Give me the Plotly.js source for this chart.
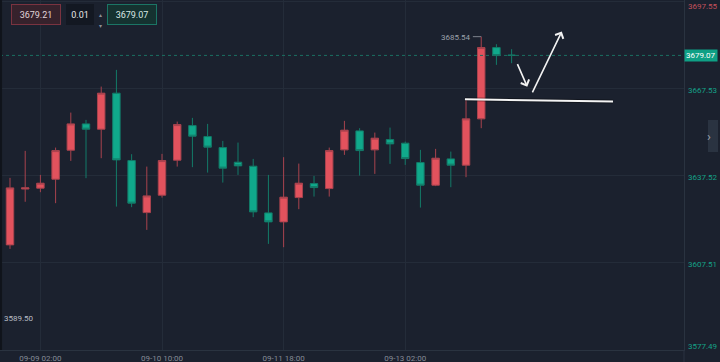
<!DOCTYPE html>
<html>
<head>
<meta charset="utf-8">
<script src="https://cdn.plot.ly/plotly-3.0.1.min.js"></script>
<style>html,body{margin:0;padding:0;background:#1b212e;}#chart{width:720px;height:362px;}</style>
</head>
<body>
<div id="chart"></div>
<script>
// ---- data (4h candles, index-based x) ----
const candleIdx = [0,1,2,3,4,5,6,7,8,9,10,11,12,13,14,15,16,17,18,19,20,21,22,23,24,25,26,27,28,29,30,31,32,33];
const openP  = [3613.74,3633.00,3633.29,3636.39,3646.39,3655.46,3653.63,3666.05,3642.81,3624.87,3630.87,3642.94,3654.87,3651.08,3647.29,3642.25,3640.87,3624.77,3621.67,3630.05,3634.87,3633.15,3646.50,3653.05,3646.50,3650.05,3648.81,3642.12,3634.32,3643.39,3641.22,3657.19,3681.77,3679.20];
const highP  = [3636.84,3646.15,3637.87,3647.29,3659.36,3656.84,3668.32,3674.08,3645.01,3640.74,3645.12,3656.25,3657.53,3655.46,3649.60,3649.01,3643.39,3637.87,3643.98,3641.77,3637.53,3647.29,3656.50,3653.98,3652.46,3654.19,3649.36,3646.50,3646.84,3645.91,3663.74,3685.54,3682.94,3681.22];
const lowP   = [3612.36,3628.60,3631.91,3628.12,3642.70,3636.74,3643.63,3626.94,3626.74,3618.91,3630.05,3640.74,3640.53,3638.67,3635.22,3637.87,3623.29,3614.08,3612.94,3626.05,3630.39,3630.39,3644.77,3637.63,3638.22,3641.67,3641.32,3626.60,3634.00,3633.63,3637.08,3653.98,3675.81,3676.39];
const closeP = [3633.39,3633.40,3635.01,3646.25,3655.46,3653.63,3666.05,3643.05,3628.12,3630.63,3642.81,3655.22,3651.22,3647.43,3640.19,3640.98,3625.12,3621.67,3630.19,3635.01,3633.50,3646.25,3653.29,3646.25,3650.53,3648.56,3643.50,3634.32,3643.63,3641.22,3657.19,3681.77,3679.01,3679.07];

const xTickIdx  = [2,10,18,26];
const xTickText = ['09-09 02:00','09-10 10:00','09-11 18:00','09-13 02:00'];
const yTickVals = [3697.55,3667.53,3637.52,3607.51,3577.49];
const yTickText = ['3697.55','3667.53','3637.52','3607.51','3577.49'];

const bidPrice = 3679.21;
const askPrice = 3679.07;
const lotStep = '0.01';
const lastPrice = 3679.07;
const offscreenLow = 3589.50;

// user drawings (index, price)
const levelLineX = [29.93, 39.67];
const levelLineY = [3663.98, 3663.15];
const arrowDownTail = [33.34, 3676.6];
const arrowDownHead = [34.03, 3668.3];
const arrowUpTail = [34.32, 3665.8];
const arrowUpHead = [36.3, 3687.3];

// ---- styling ----
const BG = '#1b212e';
const GRID = '#242c39';
const AXLINE = '#2a3340';
const RED = '#e2525d';
const RED_W = '#a8434e';
const GREEN = '#10a98b';
const GREEN_W = '#137a68';
const FONT = 'Roboto, "Open Sans", sans-serif';

const trace = {
  type: 'candlestick',
  x: candleIdx, open: openP, high: highP, low: lowP, close: closeP,
  increasing: {fillcolor: RED, line: {color: RED_W, width: 1}},
  decreasing: {fillcolor: GREEN, line: {color: GREEN_W, width: 1}},
  hoverinfo: 'skip', showlegend: false
};

const hiVal = Math.max(...highP);
const hiIdx = candleIdx[highP.indexOf(hiVal)];

const annotations = [];
yTickVals.forEach((v, i) => {
  const shift = i === 0 ? -5 : (i === yTickVals.length - 1 ? 4 : -2);
  annotations.push({
    xref: 'paper', x: 1, xanchor: 'left', xshift: 2,
    yref: 'y', y: v, yanchor: 'middle', yshift: shift,
    text: yTickText[i], showarrow: false,
    font: {family: FONT, size: 8, color: v > lastPrice ? '#c4505b' : '#15a087'}
  });
});
// last price tag
annotations.push({
  xref: 'paper', x: 1, xanchor: 'left', xshift: 0,
  yref: 'y', y: lastPrice, yanchor: 'middle',
  text: lastPrice.toFixed(2), showarrow: false,
  bgcolor: '#0fa085', borderpad: 1,
  font: {family: FONT, size: 8, color: '#ffffff'}
});
// high marker
annotations.push({
  xref: 'x', x: hiIdx, xanchor: 'right', xshift: -8,
  yref: 'y', y: hiVal, yanchor: 'middle', yshift: -1,
  text: hiVal.toFixed(2), showarrow: false,
  font: {family: FONT, size: 8, color: '#9aa0aa'}
});
// off-screen low marker
annotations.push({
  xref: 'paper', x: 0, xanchor: 'left', xshift: 2,
  yref: 'y', y: offscreenLow, yanchor: 'middle', yshift: -3,
  text: offscreenLow.toFixed(2), showarrow: false,
  font: {family: FONT, size: 8, color: '#b9bdc5'}
});
// arrows
[[arrowDownTail, arrowDownHead], [arrowUpTail, arrowUpHead]].forEach(([t, h]) => {
  annotations.push({
    xref: 'x', yref: 'y', axref: 'x', ayref: 'y',
    x: h[0], y: h[1], ax: t[0], ay: t[1], text: '',
    showarrow: true, arrowhead: 4, arrowsize: 1.1, arrowwidth: 1.6, arrowcolor: '#f2f2f2'
  });
});
// top-left trade widgets
function box(px, w, txt, bg, border, col) {
  annotations.push({
    xref: 'paper', x: px / 684, xanchor: 'left',
    yref: 'paper', y: 1 - 4 / 350, yanchor: 'top',
    text: txt, showarrow: false, width: w, height: 19, borderpad: 0,
    bgcolor: bg, bordercolor: border, borderwidth: 1,
    font: {family: FONT, size: 9, color: col}
  });
}
box(11, 48, bidPrice.toFixed(2), '#36222c', '#7a3340', '#e0d4d8');
box(66, 26, lotStep, '#131822', '#131822', '#e8e8e8');
box(107, 48, askPrice.toFixed(2), '#153230', '#1b7565', '#d9e8e4');
annotations.push({xref:'paper', x: 97/684, yref:'paper', y: 1 - 9/350, text:'▴', showarrow:false, font:{family:FONT,size:6,color:'#8a909a'}});
annotations.push({xref:'paper', x: 97/684, yref:'paper', y: 1 - 20/350, text:'▾', showarrow:false, font:{family:FONT,size:6,color:'#8a909a'}});
// right side tab chevron
annotations.push({xref:'paper', x: 713/684, yref:'paper', y: 1 - 136/350, text:'›', showarrow:false, font:{family:FONT,size:13,color:'#9aa2ae'}});

const shapes = [
  // last price dotted line
  {type:'line', xref:'paper', x0:0, x1:1, yref:'y', y0:lastPrice, y1:lastPrice, line:{color:'#1b6e61', width:1, dash:'dot'}},
  // level line (shadow + white)
  {type:'line', xref:'x', yref:'y', x0:levelLineX[0], x1:levelLineX[1], y0:levelLineY[0], y1:levelLineY[1], line:{color:'rgba(0,0,0,0.35)', width:4}},
  {type:'line', xref:'x', yref:'y', x0:levelLineX[0], x1:levelLineX[1], y0:levelLineY[0], y1:levelLineY[1], line:{color:'#f4f4f4', width:2}},
  // high marker tick
  {type:'line', xref:'x', yref:'y', x0:hiIdx - 0.55, x1:hiIdx, y0:hiVal, y1:hiVal, line:{color:'#7d838d', width:1}},
  // left dark border
  {type:'line', xref:'paper', yref:'paper', x0:0.0015, x1:0.0015, y0:0, y1:1, line:{color:'#10141b', width:2}},
  // right axis separator extension
  {type:'line', xref:'paper', yref:'paper', x0:1, x1:1, y0:0, y1:-12/350, line:{color:AXLINE, width:1}},
  // right side tab
  {type:'rect', xref:'paper', yref:'paper', x0:708/684, x1:718/684, y0:1-152/350, y1:1-120/350, fillcolor:'#2a3341', line:{width:0}}
];

const layout = {
  width: 720, height: 362,
  margin: {l: 0, r: 36, t: 0, b: 12, pad: 0},
  paper_bgcolor: BG, plot_bgcolor: BG,
  showlegend: false,
  font: {family: FONT},
  xaxis: {
    range: [-0.658, 44.34], tickvals: xTickIdx, ticktext: xTickText,
    showgrid: true, gridcolor: GRID, gridwidth: 1, zeroline: false,
    showline: true, linecolor: AXLINE, ticks: '',
    tickfont: {family: FONT, size: 8, color: '#858b96'},
    rangeslider: {visible: false}, fixedrange: true
  },
  yaxis: {
    side: 'right', range: [3577.49, 3698.18], tickvals: yTickVals,
    showticklabels: false, showgrid: true, gridcolor: GRID, gridwidth: 1,
    zeroline: false, showline: true, linecolor: AXLINE, ticks: '', fixedrange: true
  },
  annotations: annotations,
  shapes: shapes,
  hovermode: false
};

Plotly.newPlot('chart', [trace], layout, {displayModeBar: false, staticPlot: true});
</script>
</body>
</html>
